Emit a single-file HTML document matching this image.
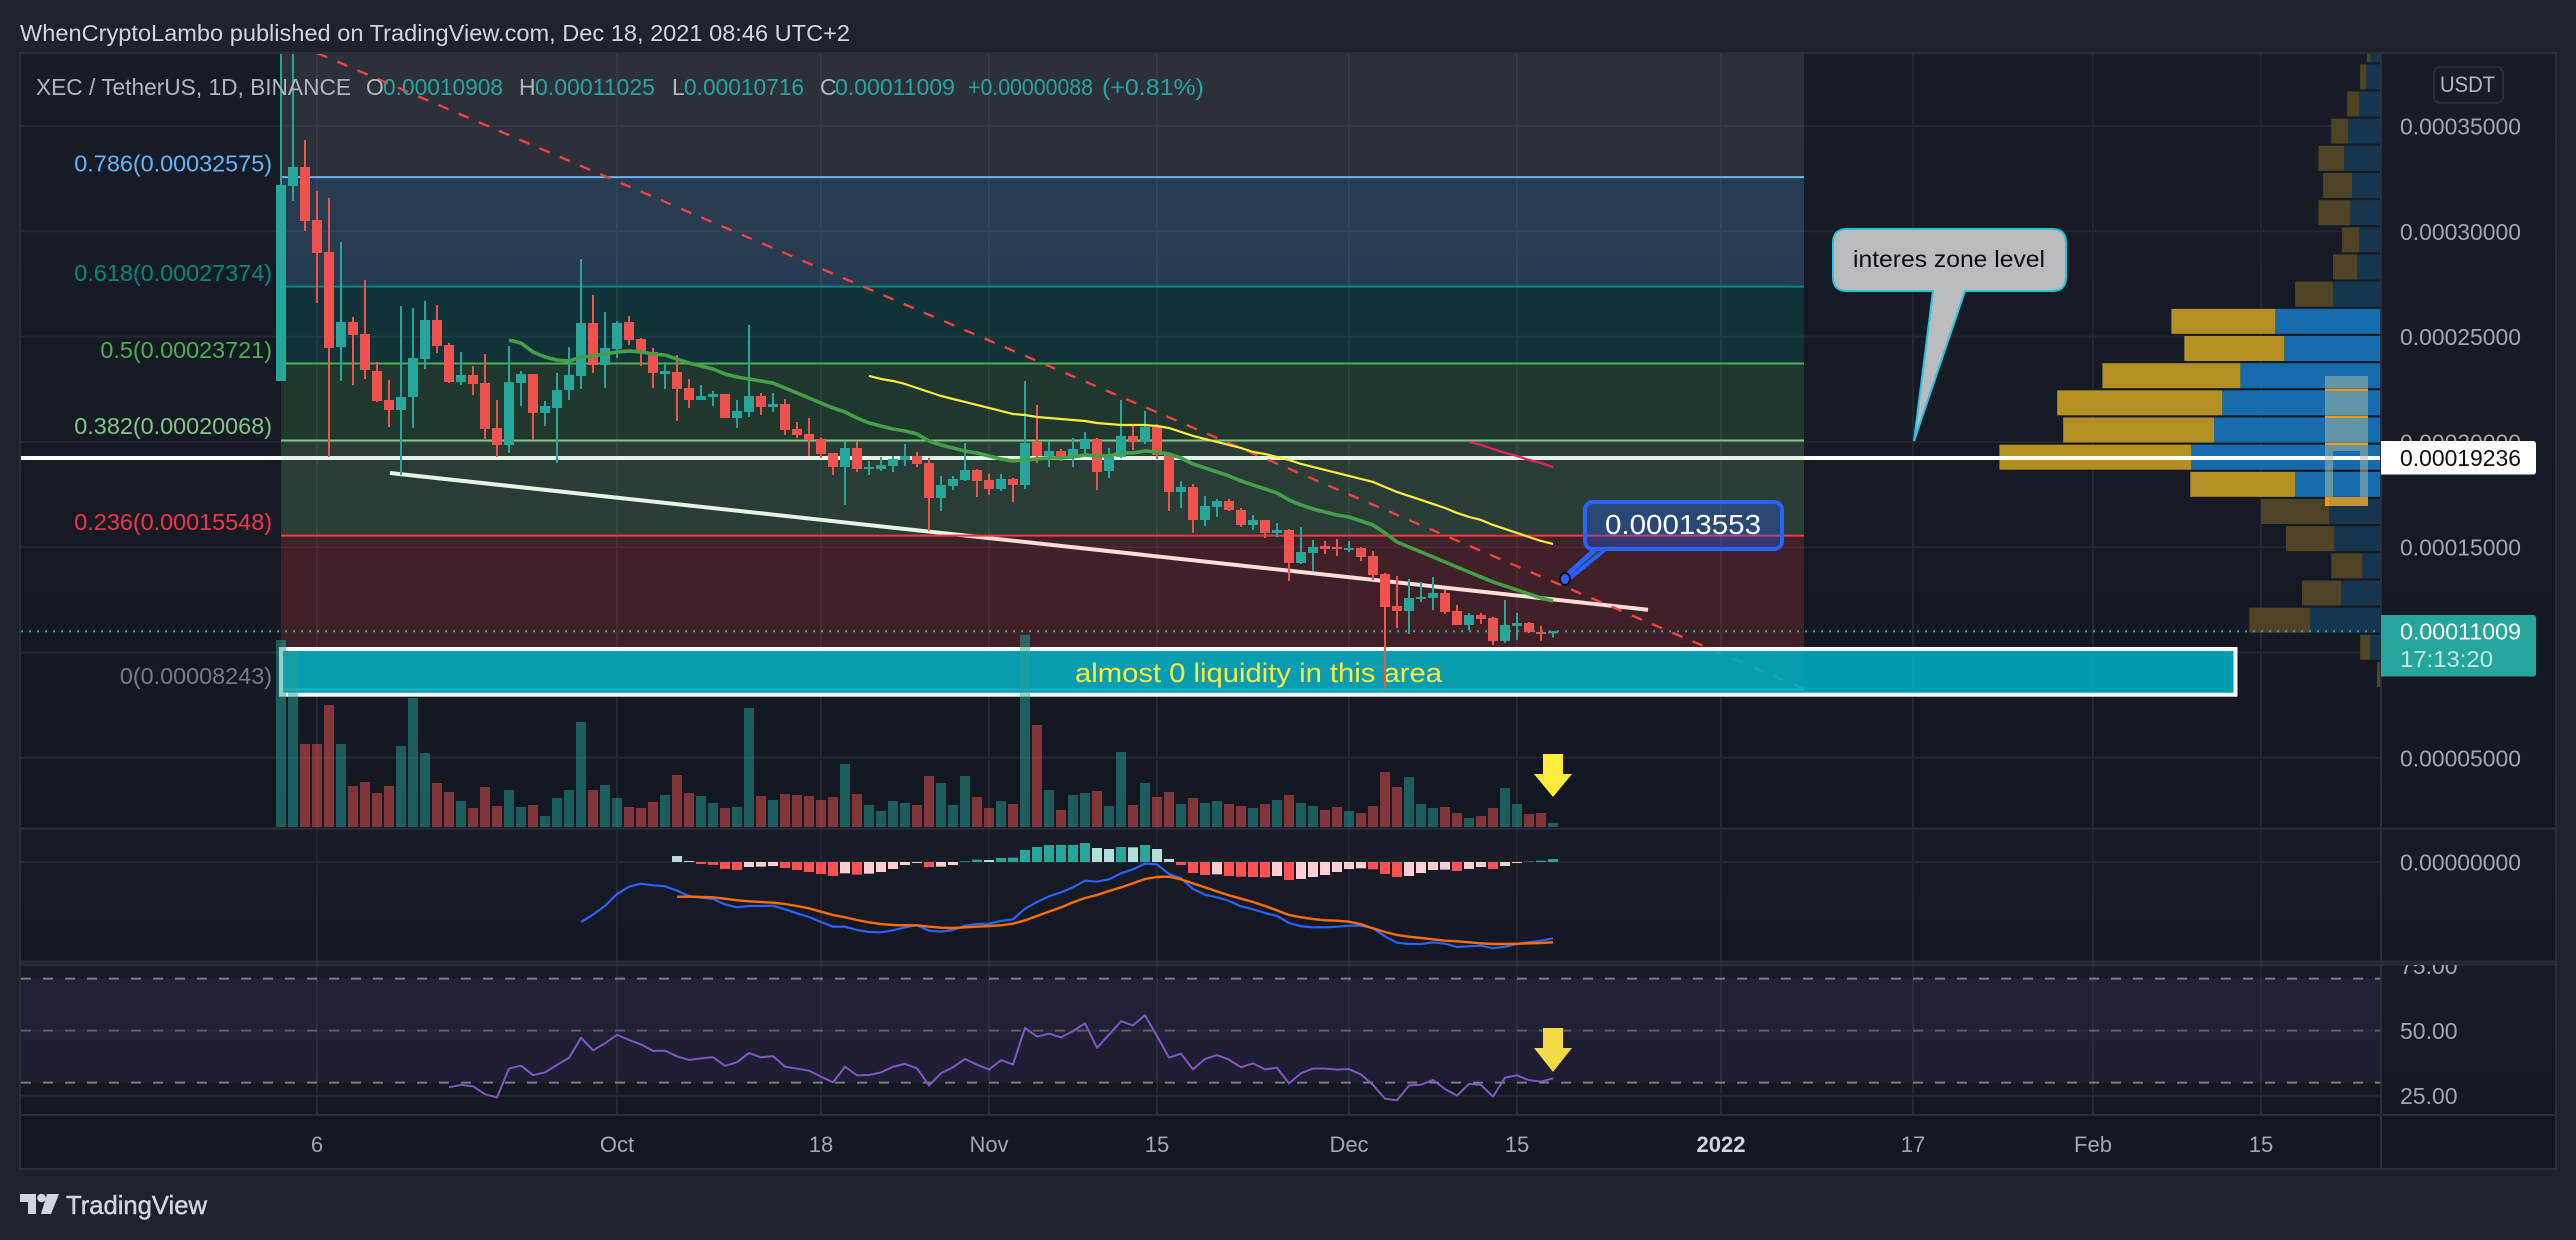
<!DOCTYPE html>
<html lang="en">
<head>
<meta charset="utf-8">
<title>XEC / TetherUS 1D chart</title>
<style>
html,body{margin:0;padding:0;background:#1e222d;}
svg{display:block;font-family:"Liberation Sans",sans-serif;}
</style>
</head>
<body>
<svg id="chart" xmlns="http://www.w3.org/2000/svg" width="2576" height="1240" viewBox="0 0 2576 1240">
<defs>
<linearGradient id="paneGrad" x1="0" y1="0" x2="0" y2="1"><stop offset="0" stop-color="#181c27"/><stop offset="1" stop-color="#131722"/></linearGradient>
<clipPath id="clipPrice"><rect x="21" y="54" width="2360" height="774"/></clipPath>
<clipPath id="clipRsiAxis"><rect x="2382" y="965" width="174" height="150"/></clipPath>
</defs>
<rect x="0" y="0" width="2576" height="1240" fill="#1e222d"/>
<rect x="20" y="53" width="2536" height="776" fill="url(#paneGrad)"/>
<rect x="20" y="829" width="2536" height="133" fill="url(#paneGrad)"/>
<rect x="20" y="964" width="2536" height="151" fill="url(#paneGrad)"/>
<rect x="20" y="1115" width="2536" height="54" fill="#131722"/>
<g id="grid"></g>
<g id="vp" clip-path="url(#clipPrice)"></g>
<g id="under"></g>
<line x1="390" y1="473" x2="1648" y2="609.7" stroke="#ffffff" stroke-width="4"/>
<g id="fibFill" clip-path="url(#clipPrice)"></g>
<g id="fibLine" clip-path="url(#clipPrice)"></g>
<line x1="317" y1="53" x2="1804" y2="689" stroke="#f0403f" stroke-width="2.4" stroke-dasharray="11 11"/>
<rect x="281" y="649" width="1954.500" height="45.700" fill="rgba(0,176,198,0.87)" stroke="#ffffff" stroke-width="4"/>
<line x1="283" y1="689.500" x2="1804" y2="689.500" stroke="#1bb3ca" stroke-width="2"/>
<text x="1075" y="682" font-size="27" fill="#ffeb3b" textLength="367" lengthAdjust="spacingAndGlyphs">almost 0 liquidity in this area</text>
<g id="volume"></g>
<g id="candles" clip-path="url(#clipPrice)"></g>
<g id="mas"></g>
<g id="macd"></g>
<g id="rsi"></g>
<g id="priceLine"></g>
<g>
<path fill-rule="evenodd" d="M2325 376H2368V506H2325ZM2333 451V497H2360V451Z" fill="rgba(168,190,157,0.5)"/>
<rect x="2325" y="497" width="43" height="9" fill="#c4923a"/>
<rect x="2325" y="497" width="4" height="9" fill="#ff9800"/>
<rect x="2325" y="389" width="43" height="2" fill="#ff9800"/>
<rect x="2325" y="416" width="43" height="2" fill="#ff9800"/>
<rect x="2325" y="443" width="43" height="2" fill="#ff9800"/>
</g>
<g>
<path d="M1847 229H2052Q2066 229 2066 243V277Q2066 291 2052 291H1965L1914 441L1933 291H1847Q1833 291 1833 277V243Q1833 229 1847 229Z" fill="#babbbe" stroke="#26c6da" stroke-width="2"/>
<text x="1853" y="267" font-size="23" fill="#0b0d12" textLength="192" lengthAdjust="spacingAndGlyphs">interes zone level</text>
</g>
<g>
<polygon points="1592,549 1609,549 1567,583 1561,577" fill="#2962ff"/>
<polygon points="1597,551 1601,551 1569,576" fill="#33405f"/>
<rect x="1585" y="502" width="197" height="47" rx="8" fill="rgba(41,98,255,0.32)" stroke="#2962ff" stroke-width="4"/>
<text x="1605" y="534" font-size="28" fill="#ffffff" textLength="156" lengthAdjust="spacingAndGlyphs">0.00013553</text>
<ellipse cx="1565" cy="579" rx="5" ry="6" fill="#2962ff" stroke="#0b0d12" stroke-width="2"/>
</g>
<polygon points="1543,754 1563,754 1563,774 1572,774 1553,797 1534,774 1543,774" fill="#ffeb3b"/>
<polygon points="1543,1028 1563,1028 1563,1048 1572,1048 1553,1072 1534,1048 1543,1048" fill="#f3d946"/>
<g fill="#2a2e39">
<rect x="20" y="827.500" width="2536" height="2"/>
<rect x="20" y="960.500" width="2536" height="2"/>
<rect x="20" y="963.500" width="2536" height="2"/>
<rect x="20" y="1114" width="2536" height="2"/>
<rect x="2380" y="53" width="2" height="1116"/>
</g>
<rect x="20" y="53" width="2536" height="1116" fill="none" stroke="#2a2e39" stroke-width="2"/>
<g id="legend">
<text x="36" y="95" font-size="23" fill="#b2b5be" textLength="315" lengthAdjust="spacingAndGlyphs">XEC / TetherUS, 1D, BINANCE</text>
<text x="366" y="95" font-size="23" fill="#b2b5be">O</text>
<text x="383" y="95" font-size="23" fill="#26a69a" textLength="120" lengthAdjust="spacingAndGlyphs">0.00010908</text>
<text x="519" y="95" font-size="23" fill="#b2b5be">H</text>
<text x="535" y="95" font-size="23" fill="#26a69a" textLength="120" lengthAdjust="spacingAndGlyphs">0.00011025</text>
<text x="672" y="95" font-size="23" fill="#b2b5be">L</text>
<text x="684" y="95" font-size="23" fill="#26a69a" textLength="120" lengthAdjust="spacingAndGlyphs">0.00010716</text>
<text x="820" y="95" font-size="23" fill="#b2b5be">C</text>
<text x="835" y="95" font-size="23" fill="#26a69a" textLength="120" lengthAdjust="spacingAndGlyphs">0.00011009</text>
<text x="968" y="95" font-size="23" fill="#26a69a" textLength="125" lengthAdjust="spacingAndGlyphs">+0.00000088</text>
<text x="1102" y="95" font-size="23" fill="#26a69a" textLength="102" lengthAdjust="spacingAndGlyphs">(+0.81%)</text>
</g>
<g id="fibLabels"></g>
<g id="axes"></g>
<g>
<rect x="2434" y="67" width="69" height="36" rx="6" fill="none" stroke="#2a2e39" stroke-width="2"/>
<text x="2440" y="92" font-size="22" fill="#b2b5be" textLength="55" lengthAdjust="spacingAndGlyphs">USDT</text>
</g>
<g>
<path d="M2381 441H2533Q2536 441 2536 444V471.500Q2536 474.500 2533 474.500H2381Z" fill="#ffffff"/>
<text x="2400" y="466" font-size="23" fill="#0b0d12" textLength="121" lengthAdjust="spacingAndGlyphs">0.00019236</text>
</g>
<g>
<path d="M2381 615H2533Q2536 615 2536 618V673.500Q2536 676.500 2533 676.500H2381Z" fill="#26a69a"/>
<text x="2400" y="639.500" font-size="23" fill="#ffffff" textLength="121" lengthAdjust="spacingAndGlyphs">0.00011009</text>
<text x="2400" y="667" font-size="23" fill="rgba(255,255,255,0.72)" textLength="93" lengthAdjust="spacingAndGlyphs">17:13:20</text>
</g>
<text x="20" y="41" font-size="23" fill="#d1d4dc" textLength="830" lengthAdjust="spacingAndGlyphs">WhenCryptoLambo published on TradingView.com, Dec 18, 2021 08:46 UTC+2</text>
<g>
<path d="M20 1194H36V1214H28V1202H20Z" fill="#d1d4dc"/>
<circle cx="41.500" cy="1198" r="4.300" fill="#d1d4dc"/>
<polygon points="47,1194 59,1194 51,1214 41,1214" fill="#d1d4dc"/>
<text x="66" y="1214" font-size="26" fill="#d1d4dc" stroke="#d1d4dc" stroke-width="0.5" textLength="141" lengthAdjust="spacingAndGlyphs">TradingView</text>
</g>
</svg>
<script>
/* ===== Values. Prices are in units of 1e-8 USDT. ===== */
const opens = [22892,32151,33053,30536,29017,24506,25693,25124,23367,21990,21515,22132,23937,25788,24601,22845,23177,22797,20660,19854,22797,23225,21373,21610,22465,23130,25646,23652,24412,25693,24886,24269,23225,23319,22560,21990,22132,22275,21135,21420,22180,21657,21800,20613,20376,20138,19474,18809,19711,18714,18714,18857,19141,19332,18999,17337,17907,18192,18667,18192,17765,18240,17955,19996,19332,19569,19284,19664,20138,18619,19284,20281,20043,20708,19426,17622,17860,16293,16910,17195,16767,16055,16293,15675,15818,14250,14725,15058,15010,14915,14963,14583,13729,12209,11972,12542,12589,12826,11972,11307,11782,11639,10547,11259,11402,10974,10908];
const highs = [38500,38500,34335,31913,31581,29492,25931,27688,23794,22940,26453,26358,26691,26501,24696,24269,23604,24174,21990,24554,23367,23225,21942,23272,24506,28685,26975,26168,25741,25978,24934,24459,23794,24127,22987,22702,22417,22275,21990,25551,22322,22322,22037,20945,21135,20186,19474,20043,20043,19094,19284,19332,19901,19521,19237,18382,18382,19948,18714,18477,18477,18287,22892,21753,20043,19664,20186,20471,20186,19711,21990,20803,21468,20850,19426,18145,18002,17432,17290,17290,16862,16530,16293,16150,15865,15960,15343,15295,15390,15295,15010,14820,13776,13634,13491,13349,13586,12969,12257,11877,11877,11687,12494,11877,11449,11259,11025];
const lows = [22892,31439,30014,26595,19284,22892,22702,22987,21895,20708,18429,20660,23462,24222,22797,22702,22227,20138,19284,19474,21705,20091,20755,18999,21990,22512,23272,22560,23984,24601,23604,22560,22512,20993,21610,21990,21705,21135,20660,21183,21278,21420,20328,20186,19332,19237,18429,17005,18572,18429,18619,18572,18857,18809,15770,16720,17717,18145,17385,17480,17670,17147,17765,18999,18809,19094,18809,19426,17717,18287,19237,19616,19901,19189,16720,16862,15675,16008,16435,16720,15960,15818,15438,15485,13396,14203,13871,14678,14583,14773,14345,13444,8243,11164,10879,12399,12019,11829,11307,11069,11354,10357,10452,10594,10927,10547,10716];
const closes = [32198,33053,30489,28970,24459,25693,25076,23414,21942,21515,22132,23984,25788,24554,22845,23177,22750,20613,19854,22845,23225,21373,21705,22465,23177,25646,23652,24459,25646,24839,24222,23272,23367,22512,21990,22180,22275,21135,21468,22180,21657,21800,20566,20328,20091,19426,18809,19711,18714,18809,18904,19189,19332,18952,17337,17955,18240,18667,18145,17765,18240,17955,19948,19332,19569,19284,19664,20138,18572,19379,20281,19996,20708,19379,17622,17860,16293,16957,17195,16767,16055,16293,15675,15818,14250,14773,15010,14915,14915,14963,14535,13681,12162,11972,12589,12637,12826,11924,11307,11782,11592,10547,11307,11402,10974,10927,11009];
const volumes = [561,528,249,249,366,249,123,135,102,123,243,387,222,132,105,78,57,120,63,111,60,66,33,87,111,315,111,126,87,60,57,75,96,156,102,93,72,57,60,357,93,81,99,96,93,81,90,189,99,66,48,78,72,66,153,132,66,153,90,57,78,69,576,306,111,51,96,102,108,63,225,66,132,90,105,69,87,72,78,69,63,57,69,81,96,72,63,51,60,48,42,63,165,120,150,69,57,60,42,27,33,57,117,69,39,42,12];

const maFastStart = 19;
const maFast = [24839,24696,24269,24032,23889,23842,24032,24079,24174,24269,24317,24269,24174,24127,23937,23747,23604,23462,23225,23082,22987,22892,22797,22560,22322,22085,21848,21610,21420,21135,20898,20755,20613,20518,20376,20043,19854,19711,19569,19474,19332,19189,19094,19141,19189,19237,19237,19284,19379,19332,19332,19474,19474,19569,19521,19426,19237,18952,18762,18572,18382,18145,17955,17765,17575,17242,17005,16815,16672,16530,16435,16245,16055,15675,15248,15010,14773,14535,14298,14060,13823,13586,13349,13159,12969,12779,12589,12447];
const maSlowStart = 49;
const maSlow = [23130,22987,22892,22750,22560,22370,22180,22037,21895,21753,21610,21468,21325,21278,21183,21135,21088,21040,20993,20898,20850,20803,20803,20803,20755,20660,20471,20281,20138,19996,19854,19711,19521,19426,19284,19141,18952,18809,18667,18524,18382,18239,18097,17860,17622,17432,17242,17052,16862,16625,16435,16293,16055,15865,15675,15485,15295,15153];
const maLongStart = 99;
const maLong = [19996,19854,19664,19474,19332,19141,18999,18809];

const macdStart = 25;
const macdLine = [-900,-790,-660,-480,-370,-325,-350,-365,-430,-510,-535,-555,-635,-680,-660,-660,-655,-710,-770,-825,-900,-970,-970,-1020,-1050,-1055,-1025,-980,-950,-1030,-1045,-1020,-955,-930,-925,-885,-860,-700,-600,-515,-455,-380,-280,-295,-260,-170,-110,-25,-35,-180,-245,-405,-490,-530,-585,-665,-710,-765,-810,-915,-965,-980,-980,-970,-955,-955,-995,-1115,-1210,-1230,-1230,-1205,-1225,-1275,-1265,-1255,-1295,-1270,-1230,-1205,-1180,-1145];
const signalStart = 33;
const signalLine = [-520,-520,-525,-530,-550,-575,-590,-600,-610,-630,-660,-695,-745,-795,-830,-870,-905,-930,-945,-950,-950,-970,-985,-990,-980,-970,-960,-950,-925,-875,-810,-745,-680,-605,-540,-495,-435,-380,-320,-255,-225,-220,-260,-320,-380,-440,-500,-550,-600,-660,-725,-795,-830,-855,-875,-880,-895,-935,-995,-1050,-1095,-1120,-1140,-1160,-1180,-1190,-1205,-1220,-1230,-1230,-1225,-1220,-1215,-1205];
const histogram = [90,15,-30,-45,-105,-120,-75,-70,-60,-90,-120,-150,-180,-210,-170,-190,-175,-150,-105,-45,-15,-75,-70,-45,10,35,30,60,65,180,225,255,256,257,285,210,195,225,220,255,195,45,-45,-165,-195,-185,-210,-220,-225,-230,-210,-270,-255,-225,-195,-150,-105,-95,-110,-180,-225,-210,-165,-120,-115,-135,-105,-75,-105,-60,-15,5,20,45];

const rsiStart = 14;
const rsiValues = [28.2,29.1,28.6,25.5,24.3,35.4,36.5,32.9,33.9,36.8,39.5,47.3,42.4,45.1,48.4,46.4,44.7,42.2,42.3,40.1,38.7,39.3,39.8,36.4,37.8,41.4,39.7,40.2,36.1,35.4,34.6,32.3,30.1,36.1,32.8,32.9,33.9,36.1,37.2,35.5,28.9,33.6,35.9,39.1,36.9,35.0,38.6,37.0,51.0,47.7,48.8,47.4,49.8,52.8,43.4,48.4,53.6,52.0,55.9,47.9,39.6,41.1,35.1,39.1,40.6,38.8,35.9,37.4,35.1,35.7,29.7,33.6,35.4,35.4,35.0,35.2,33.1,29.1,23.8,23.2,28.9,29.2,31.0,27.5,25.0,29.5,29.1,24.6,31.9,32.8,30.9,30.4,31.6];
const rsiLevels = [70,50,30];
const rsiTicks = [75,50,25];

const vpUp = [0,23,162,90,41,106,118,197,438,385,366,324,222,243,109,53,48,69,65,83,74,48,32,22];
const vpDown = [7,23,141,91,72,112,158,243,445,350,383,320,232,241,88,56,40,74,67,60,39,28,14,8];
const vpValueAreaFirst = 7;
const vpValueAreaLast = 13;
const vpBasePrice = 8306;
const vpRowStep = 1290;

const fibRatios = ['0','0.236','0.382','0.5','0.618','0.786','1'];
const fibPrices = [8243,15548,20068,23721,27374,32575,39199];
const levelPrice = 19236;
const lastPrice = 11009;

const priceTicks = [35000,30000,25000,20000,15000,10000,5000];
const timeTickBars = [3,28,45,59,73,89,103,120,136,151,165];
const timeTickLabels = ['6','Oct','18','Nov','15','Dec','15','2022','17','Feb','15'];

/* ===== Axis functions ===== */
function xAt(i){ return 281 + 12*i; }
function priceY(p){ return 126 + (35000 - p)*105.3/5000; }
function volY(v){ return 827 - v/3; }
function macdY(v){ return 862 - v/15; }
function rsiY(r){ return 1030.6 - (r - 50)*2.6; }

/* ===== Styling ===== */
const TEAL = '#26a69a', RED = '#ef5350';
const fibLineColors = ['#787b86','#f23645','#81c784','#4caf50','#00897b','#64b5f6'];
const fibZoneColors = ['rgba(244,67,54,0.19)','rgba(129,199,132,0.2)','rgba(76,175,80,0.2)','rgba(0,137,123,0.22)','rgba(100,181,246,0.21)','rgba(120,123,134,0.22)'];
const fibLabelColors = ['#787b86','#f23645','#81c784','#4caf50','#00897b','#64b5f6'];
const fibLabelOffsets = [14,14,15,14,14,14];

const NS = 'http://www.w3.org/2000/svg';
function mk(parent, tag, attrs, text){
  const n = document.createElementNS(NS, tag);
  for (const k in attrs) n.setAttribute(k, attrs[k]);
  if (text !== undefined) n.textContent = text;
  parent.appendChild(n);
  return n;
}
function g(id){ return document.getElementById(id); }
function linePath(start, values, yFn){
  return values.map((v, k) => (k ? 'L' : 'M') + xAt(start + k) + ' ' + yFn(v).toFixed(2)).join('');
}

/* grid */
priceTicks.forEach(function(p){
  const el = mk(g('grid'), 'line', {x1:20, x2:2381, y1:priceY(p), y2:priceY(p), stroke:'#232732', 'stroke-width':2});
  
  
});
timeTickBars.forEach(function(b){
  const el = mk(g('grid'), 'line', {x1:xAt(b), x2:xAt(b), y1:53, y2:1115, stroke:'#232732', 'stroke-width':2});
  
  
});
const zeroGrid = mk(g('grid'), 'line', {x1:20, x2:2381, y1:macdY(0), y2:macdY(0), stroke:'#232732', 'stroke-width':2});


rsiTicks.forEach(function(r){
  const el = mk(g('grid'), 'line', {x1:20, x2:2381, y1:rsiY(r), y2:rsiY(r), stroke:'#232732', 'stroke-width':2});
  
  
});

/* volume profile */
vpUp.forEach(function(up, k){
  const down = vpDown[k];
  const inVA = k >= vpValueAreaFirst && k <= vpValueAreaLast;
  const yTop = priceY(vpBasePrice + (k + 1)*vpRowStep) + 1;
  const h = 25;
  const right = 2380;
  const upW = up/2.32, downW = down/2.32;
  const upBar = mk(g('vp'), 'rect', {x:right - upW, y:yTop, width:upW, height:h, fill:inVA ? '#166cad' : '#16364f'});
  
  
  const downBar = mk(g('vp'), 'rect', {x:right - upW - downW, y:yTop, width:downW, height:h, fill:inVA ? '#b38f24' : '#4f4326'});
  
  
});

/* level line */
const levelLine = mk(g('under'), 'line', {x1:20, x2:2381, y1:priceY(levelPrice), y2:priceY(levelPrice), stroke:'#ffffff', 'stroke-width':4});



/* fib */
for (let k = 0; k < fibPrices.length - 1; k++){
  const yTop = priceY(fibPrices[k + 1]), yBot = priceY(fibPrices[k]);
  const zone = mk(g('fibFill'), 'rect', {x:281, y:yTop, width:1523, height:yBot - yTop, fill:fibZoneColors[k]});
  
  
  if (k > 0){
    const ln = mk(g('fibLine'), 'line', {x1:281, x2:1804, y1:yBot, y2:yBot, stroke:fibLineColors[k], 'stroke-width':2});
    
    
  }
  const lbl = mk(g('fibLabels'), 'text', {x:272, y:yBot - fibLabelOffsets[k] + 8.5, 'text-anchor':'end', 'font-size':23.4, fill:fibLabelColors[k]}, fibRatios[k] + '(' + (fibPrices[k]/1e8).toFixed(8) + ')');
  
  
}

/* volume bars */
volumes.forEach(function(v, i){
  const up = closes[i] >= opens[i];
  const bar = mk(g('volume'), 'rect', {x:xAt(i) - 5, y:volY(v), width:10, height:827 - volY(v), fill:up ? 'rgba(38,166,154,0.5)' : 'rgba(239,83,80,0.5)'});
  
  
});

/* candles */
opens.forEach(function(o, i){
  const c = closes[i];
  const col = c >= o ? TEAL : RED;
  const wick = mk(g('candles'), 'rect', {x:xAt(i) - 1, y:priceY(highs[i]), width:2, height:priceY(lows[i]) - priceY(highs[i]), fill:col});
  
  
  const top = priceY(Math.max(o, c));
  const body = mk(g('candles'), 'rect', {x:xAt(i) - 5, y:top, width:10, height:Math.max(2, priceY(Math.min(o, c)) - top), fill:col});
  
  
});

/* moving averages */
const maGreen = mk(g('mas'), 'path', {d:linePath(maFastStart, maFast, priceY), fill:'none', stroke:'#43a047', 'stroke-width':3.6, 'stroke-linejoin':'round'});


const maYellow = mk(g('mas'), 'path', {d:linePath(maSlowStart, maSlow, priceY), fill:'none', stroke:'#ffeb3b', 'stroke-width':2.2, 'stroke-linejoin':'round'});


const maPink = mk(g('mas'), 'path', {d:linePath(maLongStart, maLong, priceY), fill:'none', stroke:'#e91e63', 'stroke-width':2.2});



/* MACD */
histogram.forEach(function(v, k){
  const prev = k ? histogram[k - 1] : Infinity;
  const col = v >= 0 ? (v >= prev ? '#26a69a' : '#b2dfdb') : (v < prev ? '#ff5252' : '#ffcdd2');
  const top = Math.min(macdY(v), macdY(0));
  const bar = mk(g('macd'), 'rect', {x:xAt(signalStart + k) - 5, y:top, width:10, height:Math.abs(macdY(v) - macdY(0)), fill:col});
  
  
});
const macdPath = mk(g('macd'), 'path', {d:linePath(macdStart, macdLine, macdY), fill:'none', stroke:'#2962ff', 'stroke-width':2.2, 'stroke-linejoin':'round'});


const signalPath = mk(g('macd'), 'path', {d:linePath(signalStart, signalLine, macdY), fill:'none', stroke:'#ff6d00', 'stroke-width':2.4, 'stroke-linejoin':'round'});



/* RSI */
const rsiBand = mk(g('rsi'), 'rect', {x:21, y:rsiY(rsiLevels[0]), width:2359, height:rsiY(rsiLevels[2]) - rsiY(rsiLevels[0]), fill:'rgba(126,87,194,0.1)'});


rsiLevels.forEach(function(r){
  const ln = mk(g('rsi'), 'line', {x1:21, x2:2380, y1:rsiY(r), y2:rsiY(r), stroke:r === 50 ? '#5b5d6b' : '#787b86', 'stroke-width':2, 'stroke-dasharray':'10 12'});
  
  
});
const rsiPath = mk(g('rsi'), 'path', {d:linePath(rsiStart, rsiValues, rsiY), fill:'none', stroke:'#7e57c2', 'stroke-width':2, 'stroke-linejoin':'round'});



/* last price dotted line */
const lastLine = mk(g('priceLine'), 'line', {x1:21, x2:2381, y1:priceY(lastPrice), y2:priceY(lastPrice), stroke:'#26a69a', 'stroke-width':2, 'stroke-dasharray':'2 6'});



/* axes */
priceTicks.forEach(function(p){
  const t = mk(g('axes'), 'text', {x:2400, y:priceY(p) + 8.5, 'font-size':23, fill:'#a3a6af', textLength:121, lengthAdjust:'spacingAndGlyphs'}, (p/1e8).toFixed(8));
  
  
});
const macdTick = mk(g('axes'), 'text', {x:2400, y:macdY(0) + 8.5, 'font-size':23, fill:'#a3a6af', textLength:121, lengthAdjust:'spacingAndGlyphs'}, (0).toFixed(8));


const rsiAxisGroup = mk(g('axes'), 'g', {'clip-path':'url(#clipRsiAxis)'});


rsiTicks.forEach(function(r){
  const t = mk(rsiAxisGroup, 'text', {x:2400, y:rsiY(r) + 8.5, 'font-size':23, fill:'#a3a6af'}, r.toFixed(2));
  
  
});
timeTickBars.forEach(function(b, k){
  const label = timeTickLabels[k];
  const t = mk(g('axes'), 'text', {x:xAt(b), y:1152, 'text-anchor':'middle', 'font-size':22, fill:label === '2022' ? '#d1d4dc' : '#a3a6af', 'font-weight':label === '2022' ? 'bold' : 'normal'}, label);
  
  
});
</script>
</body>
</html>
